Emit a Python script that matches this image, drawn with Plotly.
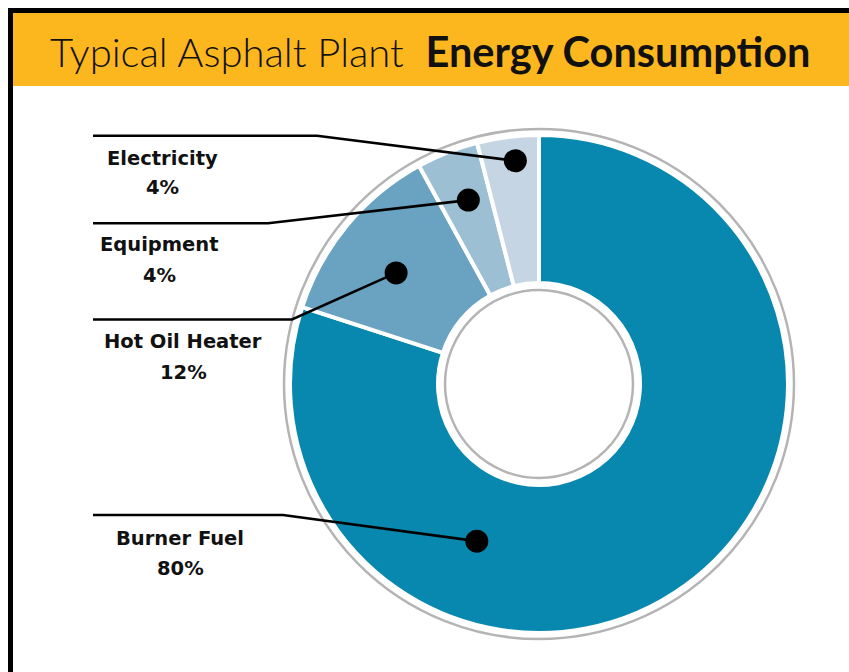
import math
import plotly.graph_objects as go

W, H = 849, 672

# ---- data ----
categories = ["Burner Fuel", "Hot Oil Heater", "Equipment", "Electricity"]
shares = [80, 12, 4, 4]
slice_colors = ["#0888AF", "#6AA3C2", "#9DBFD4", "#C5D5E4"]

title_light = "Typical Asphalt Plant"
title_bold = "Energy Consumption"

# ---- layout (pixels) ----
CX, CY = 539, 384          # donut centre
R_OUT = 249                # outer radius of the pie trace
R_HOLE = 101               # radius of the hole
R_RING_OUT = 255           # grey ring around the donut
R_RING_IN = 94             # grey ring inside the hole
SEP = 4                    # white gap between slices

# callouts: position of the dot along each slice's sweep, and its radius
callout_frac = [0.70, 0.46, 0.54, 0.58]
callout_rad = [169, 181, 197, 224.5]
callout_row_y = [515, 319.5, 223.3, 135.7]
callout_elbow_x = [283, 292, 268, 317]
callout_start_x = 93
label_x = [180, 183, 159, 162]
label_name_y = [538, 341, 245, 158]
label_pct_y = [568, 372, 275, 187]


def px(x):
    return x / W


def py(y):
    return 1 - y / H


fig = go.Figure()

fig.add_trace(go.Pie(
    labels=categories,
    values=shares,
    sort=False,
    direction="clockwise",
    rotation=0,
    hole=R_HOLE / R_OUT,
    marker=dict(colors=slice_colors, line=dict(color="white", width=SEP)),
    textinfo="none",
    hoverinfo="label+percent",
    showlegend=False,
    domain=dict(x=[px(CX - R_OUT), px(CX + R_OUT)],
                y=[py(CY + R_OUT), py(CY - R_OUT)]),
))

shapes = []
annotations = []

# frame: black border on the left/top, yellow header band
shapes.append(dict(type="rect", xref="paper", yref="paper", layer="below",
                   x0=px(8), x1=px(13), y0=py(H), y1=py(8),
                   fillcolor="black", line=dict(width=0)))
shapes.append(dict(type="rect", xref="paper", yref="paper", layer="below",
                   x0=px(8), x1=px(W), y0=py(13), y1=py(8),
                   fillcolor="black", line=dict(width=0)))
shapes.append(dict(type="rect", xref="paper", yref="paper", layer="below",
                   x0=px(13), x1=px(W), y0=py(86), y1=py(13),
                   fillcolor="#FDB71E", line=dict(width=0)))

# grey rings
for r in (R_RING_OUT, R_RING_IN):
    shapes.append(dict(type="circle", xref="paper", yref="paper", layer="above",
                       x0=px(CX - r), x1=px(CX + r), y0=py(CY + r), y1=py(CY - r),
                       line=dict(color="#B4B4B4", width=2.5)))

# callouts with leader lines
total = sum(shares)
start = 0.0
DOT_R = 11.5
for i, (name, v) in enumerate(zip(categories, shares)):
    ang = math.radians(360.0 * (start + callout_frac[i] * v) / total)
    start += v
    dx = CX + callout_rad[i] * math.sin(ang)
    dy = CY - callout_rad[i] * math.cos(ang)
    path = (f"M {px(callout_start_x)},{py(callout_row_y[i])} "
            f"L {px(callout_elbow_x[i])},{py(callout_row_y[i])} "
            f"L {px(dx)},{py(dy)}")
    shapes.append(dict(type="path", xref="paper", yref="paper", layer="above",
                       path=path, line=dict(color="black", width=2.6)))
    shapes.append(dict(type="circle", xref="paper", yref="paper", layer="above",
                       x0=px(dx - DOT_R), x1=px(dx + DOT_R),
                       y0=py(dy + DOT_R), y1=py(dy - DOT_R),
                       fillcolor="black", line=dict(width=0)))
    for txt, ty in ((name, label_name_y[i]), (f"{v}%", label_pct_y[i])):
        annotations.append(dict(
            xref="paper", yref="paper", x=px(label_x[i]), y=py(ty),
            xanchor="center", yanchor="middle", showarrow=False, text=txt,
            font=dict(family="DejaVu Sans", size=19.5, weight="bold",
                      color="#111111")))

annotations.append(dict(
    xref="paper", yref="paper", x=px(48), y=py(51),
    xanchor="left", yanchor="middle", showarrow=False,
    text=(f"{title_light}&nbsp; <span style=\"font-size:41.5px\">"
          f"<b>{title_bold}</b></span>"),
    font=dict(family="Lato", size=40, weight=300, color="#111111")))

fig.update_layout(
    width=W, height=H,
    margin=dict(l=0, r=0, t=0, b=0),
    paper_bgcolor="white", plot_bgcolor="white",
    shapes=shapes, annotations=annotations,
)

fig.write_html("out.html")
